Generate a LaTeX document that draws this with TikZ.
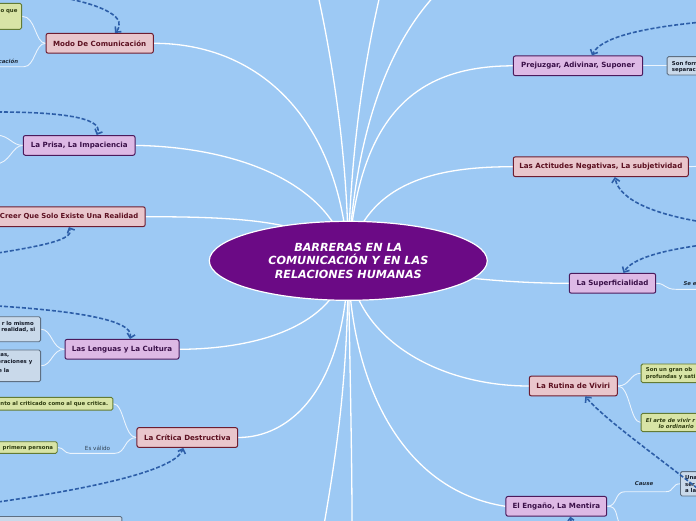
\documentclass[tikz,border=0pt]{standalone}
\usepackage{fontspec}
\setmainfont{DejaVu Sans}
\usetikzlibrary{arrows.meta,shapes.geometric}
\pgfdeclarelayer{bottom}
\pgfdeclarelayer{background}
\pgfsetlayers{bottom,background,main}
\definecolor{bgblue}{HTML}{9DC9F4}
\definecolor{cen}{HTML}{6B0A85}
\definecolor{pinkf}{HTML}{E9C6CC}
\definecolor{pinkd}{HTML}{6E1D30}
\definecolor{pinkt}{HTML}{5C1020}
\definecolor{lavf}{HTML}{DDB9E5}
\definecolor{lavd}{HTML}{4B1A5C}
\definecolor{lavt}{HTML}{3A1048}
\definecolor{grnf}{HTML}{D8E4A6}
\definecolor{grnd}{HTML}{637B34}
\definecolor{grnt}{HTML}{2E3C10}
\definecolor{gryf}{HTML}{C9D9EA}
\definecolor{gryd}{HTML}{5E6F82}
\definecolor{gryt}{HTML}{141A28}
\definecolor{dashblue}{HTML}{2D5EA8}
\definecolor{lbltext}{HTML}{1E2A38}
\begin{document}
\begin{tikzpicture}[x=1pt,y=-1pt,
  mainbox/.style={draw, rounded corners=2pt, line width=1pt, minimum height=19.7pt,
    inner xsep=4pt, inner ysep=0pt, font=\bfseries\fontsize{7.1}{8}\selectfont},
  pinkbox/.style={mainbox, fill=pinkf, draw=pinkd, text=pinkt},
  lavbox/.style={mainbox, fill=lavf, draw=lavd, text=lavt},
  subbox/.style={rounded corners=1.5pt, line width=0.9pt, inner sep=0pt},
  grnbox/.style={subbox, fill=grnf, draw=grnd},
  grybox/.style={subbox, fill=gryf, draw=gryd},
  subtxt/.style={font=\bfseries\fontsize{5.4}{6}\selectfont, inner sep=0pt},
  subit/.style={font=\bfseries\itshape\fontsize{5.4}{6}\selectfont, inner sep=0pt},
  lbl/.style={font=\bfseries\itshape\fontsize{5.4}{6}\selectfont, inner sep=0pt, text=lbltext},
  branch/.style={draw=white, line width=1.3pt},
  twig/.style={draw=white!80!bgblue, line width=0.9pt},
  darrow/.style={draw=dashblue, line width=1.6pt, dash pattern=on 4pt off 2pt,
    -{Straight Barb[length=4pt,width=8pt]}}
]
\useasboundingbox (0,0) rectangle (696,520);
\begin{pgfonlayer}{bottom}
\fill[bgblue] (-10,-10) rectangle (706,530);
\end{pgfonlayer}

% central node
\node[ellipse, fill=cen, draw=white, line width=1.2pt, minimum width=278pt,
  minimum height=79pt, inner sep=0pt, text=white, align=center,
  font=\bfseries\itshape\fontsize{11.2}{13.3}\selectfont] (c) at (348.3,260.8)
  {BARRERAS EN LA\\COMUNICACIÓN Y EN LAS\\RELACIONES HUMANAS};

% main topic nodes
\node[pinkbox, minimum width=107.3pt] (modo) at (99.7,43.3) {Modo De Comunicación};
\node[lavbox, minimum width=111.7pt] (prisa) at (79.2,145.4) {La Prisa, La Impaciencia};
\node[pinkbox, anchor=east, inner xsep=7pt, font=\bfseries\fontsize{6.9}{8}\selectfont] (creer) at (145.7,216.7) {Creer Que Solo Existe Una Realidad};
\node[lavbox, minimum width=114pt] (len) at (122,349.3) {Las Lenguas y La Cultura};
\node[pinkbox, minimum width=100.7pt] (crit) at (187.3,437.5) {La Crítica Destructiva};
\node[lavbox, minimum width=129.3pt] (prej) at (578,65.8) {Prejuzgar, Adivinar, Suponer};
\node[pinkbox, minimum width=175pt] (act) at (600.8,166.7) {Las Actitudes Negativas, La subjetividad};
\node[lavbox, minimum width=86.4pt] (sup) at (612.5,283.3) {La Superficialidad};
\node[pinkbox, minimum width=88pt] (rut) at (573.3,386) {La Rutina de Viviri};
\node[lavbox, minimum width=100.7pt] (eng) at (556.3,506.3) {El Engaño, La Mentira};

% partial sub nodes (cut by the edges)
\node[grnbox, anchor=east, minimum width=80pt, minimum height=26pt] (g1) at (22,16.3) {};
\node[subtxt, text=grnt, anchor=base east] (g1t) at (17.7,12) {o que};

\node[grybox, anchor=east, minimum width=80pt, minimum height=25pt] (l1) at (41,329.2) {};
\node[subtxt, text=gryt, anchor=base east] (l1a) at (34,325.3) {r lo mismo};
\node[subtxt, text=gryt, anchor=base east] (l1b) at (35.5,331.3) {realidad, si};
\node[grybox, anchor=east, minimum width=80pt, minimum height=31.7pt] (l2) at (41,365.8) {};
\node[subtxt, text=gryt, anchor=base east] (l2a) at (9.5,356) {nas,};
\node[subtxt, text=gryt, anchor=base east] (l2b) at (32.5,363.7) {eraciones y};
\node[subtxt, text=gryt, anchor=base east] (l2c) at (9.5,372) {e la};

\node[grnbox, anchor=east, minimum width=150pt, minimum height=12.7pt] (k1) at (113.3,403.7) {};
\node[subtxt, text=grnt, anchor=base east] (k1t) at (108.3,405.7) {nto al criticado como al que critica.};
\node[grnbox, anchor=east, minimum width=90pt, minimum height=11.6pt] (k2) at (57.7,447.5) {};
\node[subtxt, text=grnt, anchor=base east] (k2t) at (53.3,449.5) {primera persona};
\node[grybox, anchor=north east, minimum width=160pt, minimum height=20pt] (bl) at (122.3,516) {};

\node[grybox, anchor=west, minimum width=60pt, minimum height=18.3pt] (pg) at (666.7,65.8) {};
\node[subtxt, text=gryt, anchor=base west] (pga) at (671.7,65.3) {Son form};
\node[subtxt, text=gryt, anchor=base west] (pgb) at (671.7,71.3) {separac};

\node[grnbox, anchor=west, minimum width=70pt, minimum height=18.7pt] (r1) at (640.7,373.3) {};
\node[subtxt, text=grnt, anchor=base west] (r1a) at (645.7,371.3) {Son un gran ob};
\node[subtxt, text=grnt, anchor=base west] (r1b) at (645.7,378.7) {profundas y sati};
\node[grnbox, anchor=west, minimum width=70pt, minimum height=18.3pt] (r2) at (640.7,422.5) {};
\node[subit, text=grnt, anchor=base west] (r2a) at (645.7,422) {El arte de vivir r};
\node[subit, text=grnt, anchor=base west] (r2b) at (658.3,428.5) {lo ordinario};

\node[grybox, anchor=west, minimum width=40pt, minimum height=24.3pt] (eg) at (680,483.8) {};
\node[subtxt, text=gryt, anchor=base west] (ega) at (685,479.3) {Una};
\node[subtxt, text=gryt, anchor=base west] (egb) at (685,486) {ser};
\node[subtxt, text=gryt, anchor=base west] (egc) at (685,492.7) {a la};

% labels
\node[lbl, anchor=base east] (lc) at (18.3,63) {cación};
\node[font=\fontsize{5.6}{6}\selectfont, inner sep=0pt, text=lbltext!85!bgblue] (lv) at (97.5,448) {Es válido};
\node[lbl, anchor=base west] (ls) at (683.3,285.5) {Se e};
\node[lbl] (lcause) at (644,484) {Cause};

% free ends
\coordinate (tA) at (318,-5);
\coordinate (tB) at (380,-5);
\coordinate (tC) at (440,-10);
\coordinate (bD) at (324,525);
\coordinate (bE) at (352,525);
\coordinate (fm) at (-5,66.7);
\coordinate (fp1) at (-3,135);
\coordinate (fp2) at (-5,164);
\coordinate (fs) at (705,289.3);
\coordinate (fa) at (705,166);
\coordinate (fe) at (620,525);

\begin{pgfonlayer}{background}
% main branches
\draw[branch] (c.center) .. controls (340,120) and (260,43.3) .. (modo.east);
\draw[branch] (c.center) .. controls (335,185) and (240,147) .. (prisa.east);
\draw[branch] (c.center) .. controls (320,222) and (250,216.7) .. (creer.east);
\draw[branch] (c.center) .. controls (335,330) and (250,349) .. (len.east);
\draw[branch] (c.center) .. controls (345,390) and (290,437.5) .. (crit.east);
\draw[branch] (c.center) .. controls (348,150) and (330,50) .. (tA);
\draw[branch] (c.center) .. controls (350,150) and (365,60) .. (tB);
\draw[branch] (c.center) .. controls (355,130) and (390,40) .. (tC);
\draw[branch] (c.center) .. controls (348,380) and (336,455) .. (bD);
\draw[branch] (c.center) .. controls (350,380) and (352,450) .. (bE);
\draw[branch] (c.center) .. controls (350,380) and (400,490) .. (eng.west);
\draw[branch] (c.center) .. controls (358,110) and (420,66) .. (prej.west);
\draw[branch] (c.center) .. controls (365,180) and (440,166.7) .. (act.west);
\draw[branch] (c.center) .. controls (430,275) and (500,283.3) .. (sup.west);
\draw[branch] (c.center) .. controls (355,340) and (440,386) .. (rut.west);
% twigs
\draw[twig] (modo.west) .. controls (35,43.3) and (36,16.3) .. (g1.east);
\draw[twig] (modo.west) .. controls (35,43.3) and (35,66.7) .. (24,66.7) -- (fm);
\draw[twig] (prisa.west) .. controls (12,145.4) and (10,136) .. (fp1);
\draw[twig] (prisa.west) .. controls (12,145.4) and (10,164) .. (fp2);
\draw[twig] (len.west) .. controls (52,349.3) and (52,329.2) .. (l1.east);
\draw[twig] (len.west) .. controls (52,349.3) and (52,365.8) .. (l2.east);
\draw[twig] (crit.west) .. controls (124,437.5) and (124,403.7) .. (k1.east);
\draw[twig] (crit.west) .. controls (124,437.5) and (126,453.3) .. (115,453.3) -- (70,453.3)
  .. controls (64,453.3) and (64,447.5) .. (k2.east);
\draw[twig] (prej.east) -- (pg.west);
\draw[twig] (act.east) -- (fa);
\draw[twig] (sup.east) .. controls (666,283.3) and (664,289.3) .. (676,289.3) -- (fs);
\draw[twig] (rut.east) .. controls (630,386) and (630,373.3) .. (r1.west);
\draw[twig] (rut.east) .. controls (630,386) and (630,422.5) .. (r2.west);
\draw[twig] (eng.east) .. controls (618,506.3) and (614,491.7) .. (625,491.7) -- (666,491.7)
  .. controls (674,491.7) and (672,483.8) .. (eg.west);
\draw[twig] (eng.east) .. controls (618,506.3) and (615,515) .. (fe);
\end{pgfonlayer}

% dashed relation arrows
\coordinate (dm) at (65,-2);
\coordinate (dp) at (-2,112);
\coordinate (dc) at (-2,253);
\coordinate (dl) at (-2,306);
\coordinate (dk) at (-2,502);
\coordinate (dj) at (702,22);
\coordinate (da) at (702,222);
\coordinate (ds) at (702,245);
\coordinate (dr) at (702,492);
\coordinate (de) at (574,540);
\draw[darrow] (dm) .. controls (105,6) and (128,18) .. ([xshift=15.3pt]modo.north);
\draw[darrow] (dp) .. controls (50,112) and (105,116) .. ([xshift=17.5pt]prisa.north);
\draw[darrow] (dc) .. controls (40,246) and (75,240) .. ([xshift=-0.2pt]creer.south);
\draw[darrow] (dl) .. controls (60,310) and (135,318) .. ([xshift=8pt]len.north);
\draw[darrow] (dk) .. controls (80,490) and (175,472) .. ([xshift=-4pt]crit.south);
\draw[darrow] (dj) .. controls (640,28) and (600,38) .. ([xshift=14pt]prej.north);
\draw[darrow] (da) .. controls (660,215) and (620,202) .. ([xshift=14pt]act.south);
\draw[darrow] (ds) .. controls (665,250) and (632,258) .. ([xshift=11pt]sup.north);
\draw[darrow] (dr) .. controls (665,462) and (605,420) .. ([xshift=12pt]rut.south);
\draw[darrow, -{Straight Barb[length=3pt,width=6pt]}] (de) -- ([xshift=14pt]eng.south);
\end{tikzpicture}
\end{document}
